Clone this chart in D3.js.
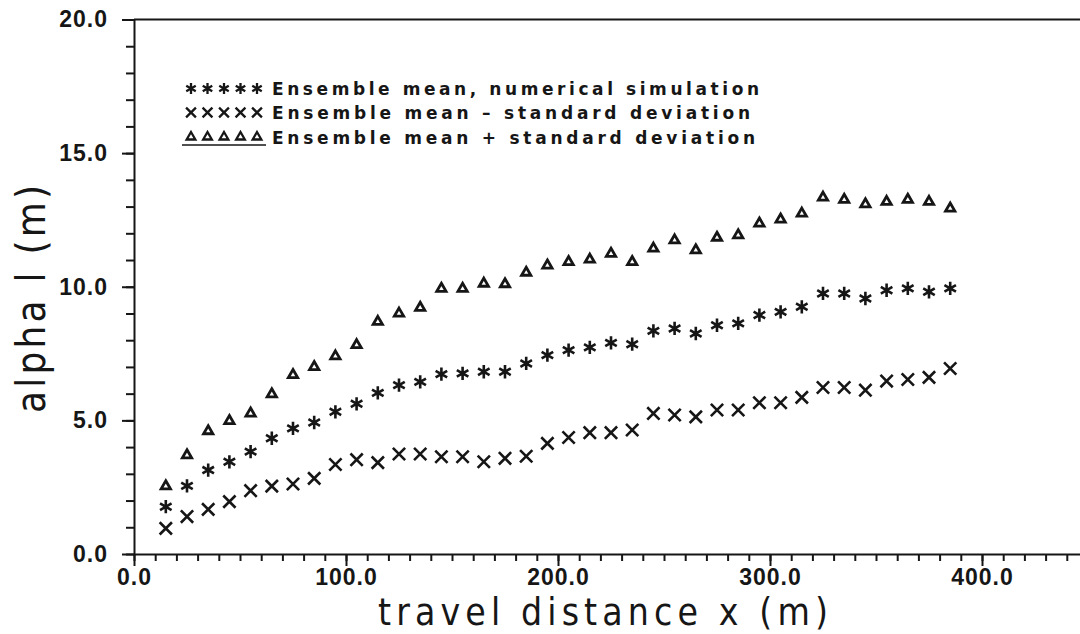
<!DOCTYPE html>
<html>
<head>
<meta charset="utf-8">
<script src="https://cdn.jsdelivr.net/npm/d3@7"></script>
<style>
    body { margin: 0; background: #fff; }
    svg { display: block; }
    .tick text { font-family: "Liberation Sans", Arial, sans-serif; font-weight: bold; font-size: 23px; fill: #161616; letter-spacing: 1px; }
    .tick line, .domain { stroke: #161616; stroke-width: 2px; }
</style>
</head>
<body>
<svg id="chart" width="1080" height="634"></svg>
<script>
// travel distance of every sample point (m)
var distance = [15, 25, 35, 45, 55, 65, 75, 85, 95, 105, 115, 125, 135, 145, 155, 165, 175, 185, 195,
    205, 215, 225, 235, 245, 255, 265, 275, 285, 295, 305, 315, 325, 335, 345, 355, 365, 375, 385];

// ensemble mean, numerical simulation
var meanValues = [1.77, 2.55, 3.14, 3.45, 3.83, 4.33, 4.70, 4.92, 5.32, 5.62, 6.03, 6.32, 6.44, 6.73, 6.76, 6.82, 6.82, 7.13, 7.44,
    7.63, 7.73, 7.90, 7.85, 8.35, 8.44, 8.25, 8.56, 8.63, 8.94, 9.06, 9.25, 9.75, 9.75, 9.56, 9.87, 9.94, 9.81, 9.94];

// ensemble mean - standard deviation
var lowerValues = [0.96, 1.40, 1.67, 1.96, 2.37, 2.54, 2.62, 2.83, 3.35, 3.53, 3.42, 3.74, 3.74, 3.64, 3.64, 3.45, 3.58, 3.66, 4.14,
    4.36, 4.54, 4.54, 4.64, 5.26, 5.20, 5.13, 5.39, 5.39, 5.66, 5.66, 5.86, 6.23, 6.23, 6.13, 6.47, 6.53, 6.61, 6.94];

// ensemble mean + standard deviation
var upperValues = [2.54, 3.70, 4.60, 4.98, 5.26, 5.98, 6.70, 7.00, 7.40, 7.82, 8.69, 9.00, 9.22, 9.93, 9.93, 10.12, 10.10, 10.53, 10.80,
    10.93, 11.02, 11.24, 10.93, 11.43, 11.74, 11.37, 11.84, 11.93, 12.37, 12.52, 12.74, 13.34, 13.26, 13.09, 13.18, 13.26, 13.18, 12.93];

var xMajorTicks = [0, 100, 200, 300, 400];
var yMajorTicks = [0, 5, 10, 15, 20];
var legendLabels = ["Ensemble mean, numerical simulation",
    "Ensemble mean \u2013 standard deviation",
    "Ensemble mean + standard deviation"];

var ink = "#161616";
var svg = d3.select("#chart");

// scales (the frame is wider than the window, the right part is cut off)
var x = d3.scaleLinear().domain([0, 500]).range([134, 1194]);
var y = d3.scaleLinear().domain([0, 20]).range([554, 19.5]);

var markers = [
    { values: meanValues, type: d3.symbolAsterisk, size: 125, legendSize: 85, width: 2.6 },
    { values: lowerValues, type: d3.symbolTimes, size: 100, legendSize: 65, width: 2.6 },
    { values: upperValues, type: d3.symbolTriangle2, size: 62, legendSize: 54, width: 2.8 }
];

drawAxes();
drawSeries();
drawLegend();
drawTitles();

function drawAxes() {
    // minor ticks first, majors on top
    var xMinor = d3.range(0, 450, 10);
    svg.append("g").attr("transform", "translate(0," + y(0) + ")")
        .call(d3.axisBottom(x).tickValues(xMinor).tickSize(7).tickFormat(""))
        .select(".domain").remove();
    svg.append("g").attr("transform", "translate(0," + y(0) + ")")
        .call(d3.axisBottom(x).tickValues(xMajorTicks).tickSize(12).tickSizeOuter(0).tickPadding(3).tickFormat(d3.format(".1f")));

    svg.append("g").attr("transform", "translate(" + x(0) + ",0)")
        .call(d3.axisLeft(y).tickValues(d3.range(0, 21, 1)).tickSize(8).tickFormat(""))
        .select(".domain").remove();
    svg.append("g").attr("transform", "translate(" + x(0) + ",0)")
        .call(d3.axisLeft(y).tickValues(yMajorTicks).tickSize(12).tickSizeOuter(0).tickPadding(14).tickFormat(d3.format(".1f")));

    // top of the frame
    svg.append("line")
        .attr("x1", x(0)).attr("x2", x(500))
        .attr("y1", y(20)).attr("y2", y(20))
        .attr("stroke", ink).attr("stroke-width", 2);
}

function drawSeries() {
    markers.forEach(function (m) {
        var sym = d3.symbol().type(m.type).size(m.size);
        svg.append("g").selectAll("path").data(m.values).enter().append("path")
            .attr("d", sym)
            .attr("transform", function (d, i) { return "translate(" + x(distance[i]) + "," + y(d) + ")"; })
            .attr("fill", "none")
            .attr("stroke", ink)
            .attr("stroke-width", m.width);
    });
}

function drawLegend() {
    var rowY = [88.5, 112.5, 137];
    var rowWidth = [487, 478, 483];
    markers.forEach(function (m, r) {
        var g = svg.append("g");
        var sym = d3.symbol().type(m.type).size(m.legendSize);
        for (var k = 0; k < 5; k++) {
            g.append("path")
                .attr("d", sym)
                .attr("transform", "translate(" + (191 + k * 16.5) + "," + rowY[r] + ")")
                .attr("fill", "none").attr("stroke", ink).attr("stroke-width", 2.3);
        }
        g.append("text")
            .attr("x", 272).attr("y", rowY[r] + 6.5)
            .attr("textLength", rowWidth[r]).attr("lengthAdjust", "spacing")
            .style("font-family", "'DejaVu Sans', sans-serif")
            .style("font-weight", "bold").style("font-size", "17px")
            .attr("fill", ink)
            .text(legendLabels[r]);
    });
    // line under the triangles
    svg.append("line").attr("x1", 182).attr("x2", 266).attr("y1", 145).attr("y2", 145)
        .attr("stroke", ink).attr("stroke-width", 1.6);
}

function drawTitles() {
    svg.append("text")
        .attr("x", 603).attr("y", 625)
        .attr("text-anchor", "middle")
        .attr("textLength", 450).attr("lengthAdjust", "spacing")
        .style("font-family", "'Liberation Sans Narrow', 'DejaVu Sans Condensed', sans-serif")
        .style("font-size", "37px").attr("fill", ink)
        .text("travel distance x (m)");

    svg.append("text")
        .attr("transform", "translate(45,299) rotate(-90)")
        .attr("text-anchor", "middle")
        .attr("textLength", 228).attr("lengthAdjust", "spacing")
        .style("font-family", "'Liberation Sans Narrow', 'DejaVu Sans Condensed', sans-serif")
        .style("font-size", "40px").attr("fill", ink)
        .text("alpha l (m)");
}
</script>
</body>
</html>
